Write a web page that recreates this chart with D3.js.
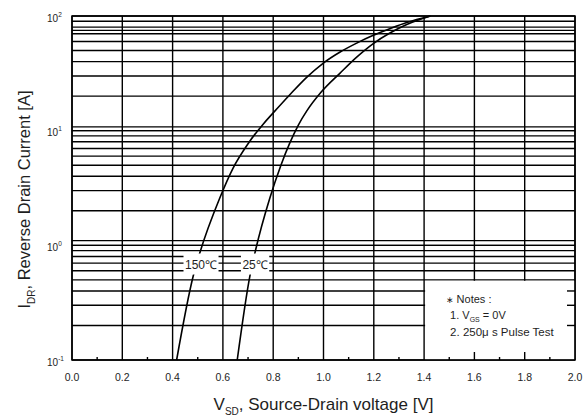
<!DOCTYPE html>
<html>
<head>
<meta charset="utf-8">
<script src="https://cdn.jsdelivr.net/npm/d3@7"></script>
<style>
  body { margin: 0; background: #fff; }
  svg text { font-family: "Liberation Sans", Arial, sans-serif; fill: #1e1e1e; }
</style>
</head>
<body>
<div id="chart"></div>
<script>
// axis ticks
var xTicks = [0.0, 0.2, 0.4, 0.6, 0.8, 1.0, 1.2, 1.4, 1.6, 1.8, 2.0];
var xMinor = [0.1, 0.3, 0.5, 0.7, 0.9, 1.1, 1.3, 1.5, 1.7, 1.9];
var yTicks = [0.1, 1, 10, 100];
var yExps = ["-1", "0", "1", "2"];
// horizontal grid lines as drawn in the datasheet (not quite a clean log grid)
var yGrid = [0.2, 0.3, 0.4, 0.5, 0.6, 0.7, 0.8, 0.9, 1, 1.1,
             2, 3, 4, 5, 6, 7, 8, 9, 10, 10.8,
             20, 30, 40, 50, 60, 70, 75, 80, 90];

// 150 C curve
var v150 = [0.416, 0.482, 0.509, 0.588, 0.64, 0.70, 0.76, 0.80, 0.867, 0.933, 0.997, 1.066, 1.132, 1.198, 1.264, 1.331, 1.425];
var i150 = [0.1, 0.54, 0.87, 2.6, 4.7, 7.7, 11.4, 14.3, 20.7, 29.2, 38.5, 48.5, 58, 67.8, 77.4, 87.7, 100];
// 25 C curve
var v25 = [0.657, 0.708, 0.73, 0.787, 0.83, 0.867, 0.90, 0.933, 0.99, 1.066, 1.132, 1.198, 1.264, 1.331, 1.425];
var i25 = [0.1, 0.55, 0.91, 2.6, 4.95, 7.9, 11.2, 14.8, 21.6, 31.8, 43.8, 57.5, 71, 84.3, 100];

var margin = { top: 16, right: 12, bottom: 56, left: 72 },
    width = 587 - margin.left - margin.right,
    height = 416 - margin.top - margin.bottom;

var svg = d3.select("#chart").append("svg")
    .attr("width", 587)
    .attr("height", 416)
  .append("g")
    .attr("transform", "translate(" + margin.left + "," + margin.top + ")");

var x = d3.scaleLinear().domain([0, 2]).range([0, width]);
var y = d3.scaleLog().domain([0.1, 100]).range([height, 0]);

// grid
svg.append("g").selectAll("line")
    .data(yGrid.concat(yTicks))
  .enter().append("line")
    .attr("x1", 0).attr("x2", width)
    .attr("y1", function(d) { return y(d); })
    .attr("y2", function(d) { return y(d); })
    .attr("stroke", "#000").attr("stroke-width", 1.4);

svg.append("g").selectAll("line")
    .data(xTicks)
  .enter().append("line")
    .attr("x1", function(d) { return x(d); })
    .attr("x2", function(d) { return x(d); })
    .attr("y1", 0).attr("y2", height)
    .attr("stroke", "#000").attr("stroke-width", 1.4);

// curves
var line = d3.line()
    .x(function(d) { return x(d[0]); })
    .y(function(d) { return y(d[1]); })
    .curve(d3.curveMonotoneX);

[[v150, i150], [v25, i25]].forEach(function(s) {
  svg.append("path")
      .datum(d3.zip(s[0], s[1]))
      .attr("fill", "none")
      .attr("stroke", "#000")
      .attr("stroke-width", 1.6)
      .attr("d", line);
});

// curve labels with white background
function curveLabel(txt, vx, iy) {
  var t = svg.append("text")
      .attr("x", x(vx)).attr("y", y(iy))
      .attr("dy", "0.35em")
      .attr("text-anchor", "middle")
      .style("font-size", "12px")
      .text(txt);
  var b = t.node().getBBox();
  svg.insert("rect", function() { return t.node(); })
      .attr("x", b.x - 1.5).attr("y", y(iy) - 11)
      .attr("width", b.width + 3).attr("height", 21)
      .attr("fill", "#fff");
}
curveLabel("150\u2103", 0.513, 0.68);
curveLabel("25\u2103", 0.728, 0.68);

// notes box
svg.append("rect")
    .attr("x", x(1.4) + 1)
    .attr("y", y(0.5) + 1)
    .attr("width", x(2.0) - x(1.4) - 1.5)
    .attr("height", y(0.1) - y(0.5) - 1.5)
    .attr("fill", "#fff");

svg.append("g").selectAll("line")
    .data(yGrid.filter(function(d) { return d < 0.5; }))
  .enter().append("line")
    .attr("x1", width - 8).attr("x2", width)
    .attr("y1", function(d) { return y(d); })
    .attr("y2", function(d) { return y(d); })
    .attr("stroke", "#000").attr("stroke-width", 1.4);

svg.append("g").selectAll("line")
    .data(xTicks.filter(function(d) { return d > 1.4 && d < 2; }))
  .enter().append("line")
    .attr("x1", function(d) { return x(d); })
    .attr("x2", function(d) { return x(d); })
    .attr("y1", height - 8).attr("y2", height)
    .attr("stroke", "#000").attr("stroke-width", 1.4);

// minor x ticks
svg.append("g").selectAll("line")
    .data(xMinor)
  .enter().append("line")
    .attr("x1", function(d) { return x(d); })
    .attr("x2", function(d) { return x(d); })
    .attr("y1", height - 3).attr("y2", height)
    .attr("stroke", "#000").attr("stroke-width", 1.4);

var notes = svg.append("text")
    .attr("x", x(1.4) + 22).attr("y", y(0.5) + 23)
    .style("font-size", "11px");
notes.append("tspan").text("\u2217 ").style("font-size", "9px");
notes.append("tspan").text("Notes :");

var n1 = svg.append("text")
    .attr("x", x(1.4) + 26).attr("y", y(0.5) + 39)
    .style("font-size", "11px");
n1.append("tspan").text("1. V");
n1.append("tspan").attr("dy", 3).style("font-size", "7px").text("GS");
n1.append("tspan").attr("dy", -3).text(" = 0V");

svg.append("text")
    .attr("x", x(1.4) + 26).attr("y", y(0.5) + 56)
    .style("font-size", "11.5px")
    .text("2. 250\u03bc s Pulse Test");

// frame
svg.append("rect")
    .attr("width", width).attr("height", height)
    .attr("fill", "none").attr("stroke", "#000").attr("stroke-width", 1.5);

// x tick labels
svg.append("g").selectAll("text")
    .data(xTicks)
  .enter().append("text")
    .attr("x", function(d) { return x(d); })
    .attr("y", height + 21)
    .attr("text-anchor", "middle")
    .style("font-size", "10.5px")
    .text(function(d) { return d3.format(".1f")(d); });

// y tick labels 10^n
yTicks.forEach(function(d, i) {
  var t = svg.append("text")
      .attr("x", -25).attr("y", y(d) + 5.5)
      .style("font-size", "10px");
  t.append("tspan").text("10");
  t.append("tspan").attr("dy", -5).style("font-size", "6.5px").text(yExps[i]);
});

// axis titles
var xt = svg.append("text")
    .attr("x", width / 2).attr("y", height + 50)
    .attr("text-anchor", "middle")
    .style("font-size", "17px");
xt.append("tspan").text("V");
xt.append("tspan").attr("dy", 5).style("font-size", "10px").text("SD");
xt.append("tspan").attr("dy", -5).text(", Source-Drain voltage [V]");

var yt = svg.append("text")
    .attr("transform", "translate(" + (-42) + "," + (height / 2 + 11.5) + ") rotate(-90)")
    .attr("text-anchor", "middle")
    .style("font-size", "16.5px");
yt.append("tspan").text("I");
yt.append("tspan").attr("dy", 5).style("font-size", "10px").text("DR");
yt.append("tspan").attr("dy", -5).text(", Reverse Drain Current [A]");
</script>
</body>
</html>
